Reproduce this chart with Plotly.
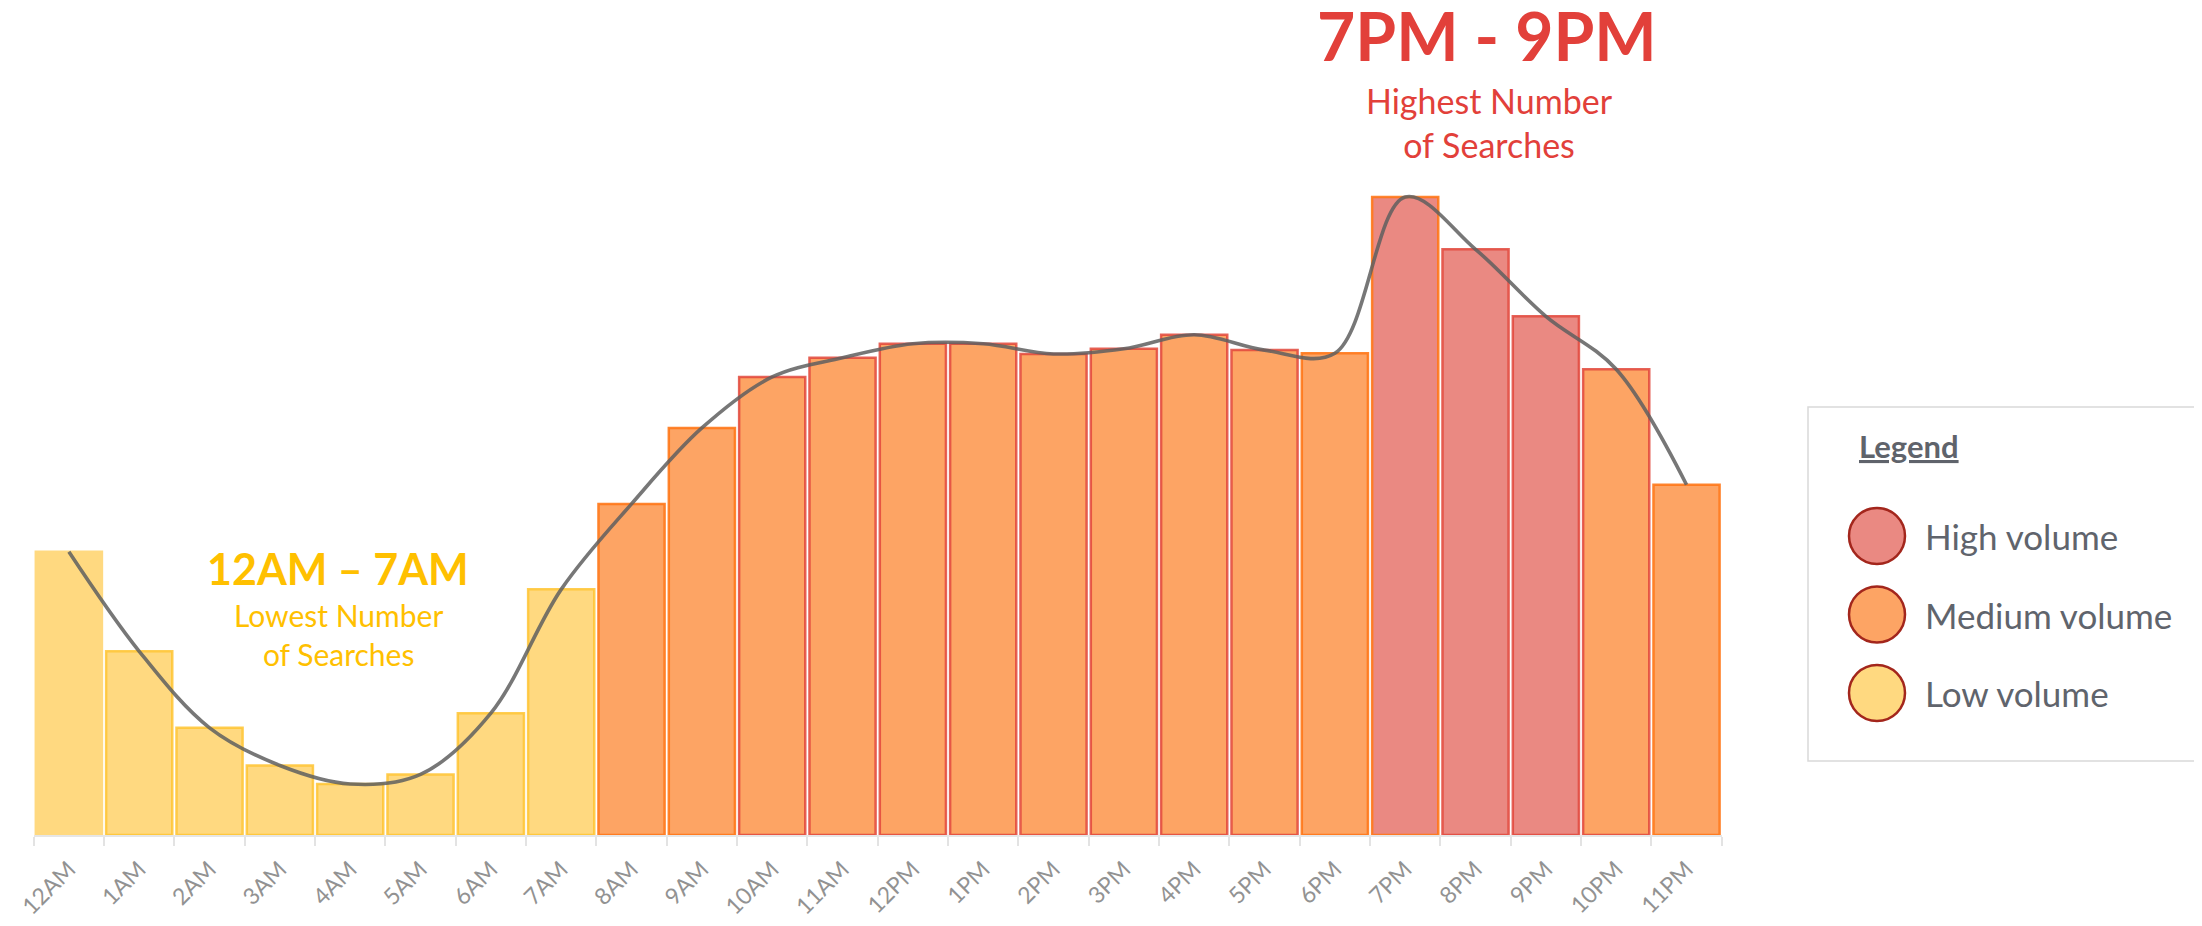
import plotly.graph_objects as go

# ---- data ----
hours = ["12AM", "1AM", "2AM", "3AM", "4AM", "5AM", "6AM", "7AM", "8AM", "9AM", "10AM", "11AM",
         "12PM", "1PM", "2PM", "3PM", "4PM", "5PM", "6PM", "7PM", "8PM", "9PM", "10PM", "11PM"]
searches = [44.4, 28.8, 16.8, 10.9, 8.0, 9.5, 19.1, 38.5, 51.9, 63.8, 71.8, 74.8,
            77.0, 77.0, 75.4, 76.2, 78.4, 76.0, 75.5, 100.0, 91.8, 81.3, 73.0, 54.9]
volume_level = ["Low"] * 8 + ["Medium"] * 11 + ["High"] * 3 + ["Medium"] * 2
legend_labels = ["High volume", "Medium volume", "Low volume"]

# ---- styles ----
OFF = 8                      # page body margin
W, H = 2202 - OFF, 926 - OFF
FILL = {"High": "#EA8982", "Medium": "#FDA464", "Low": "#FFD980"}
YEL, ORA, RED = "rgba(255,196,50,0.85)", "rgba(255,120,25,0.9)", "rgba(226,72,60,0.85)"
border_style = ["rgba(255,217,128,1)"] + [YEL] * 7 + [ORA, ORA] + [RED] * 8 + [ORA, ORA, RED, RED, RED, ORA]
FONT = "Lato, 'Open Sans', sans-serif"

def px(x):
    return (x - OFF) / W

def py(y):
    return 1 - (y - OFF) / H

plot_left, plot_right, base_y = 33.7, 1721.7, 835.0
px_per_unit = 6.38
y_max = (base_y - OFF) / px_per_unit

fig = go.Figure()
fig.add_trace(go.Bar(
    x=hours, y=searches,
    marker=dict(color=[FILL[v] for v in volume_level],
                line=dict(color=border_style, width=2.5)),
    showlegend=False, hoverinfo="x+y",
))
fig.add_trace(go.Scatter(
    x=hours, y=searches, mode="lines",
    line=dict(shape="spline", smoothing=1.0, color="rgba(95,95,95,0.85)", width=3.6),
    showlegend=False, hoverinfo="skip",
))

annotations = [
    dict(text="<b>7PM - 9PM</b>", x=px(1487), y=py(35), font=dict(size=66, color="#E2403A")),
    dict(text="Highest Number<br>of Searches", x=px(1489), y=py(122), font=dict(size=34, color="#E2403A")),
    dict(text="<b>12AM \u2013 7AM</b>", x=px(338), y=py(568), font=dict(size=43, color="#FFC000")),
    dict(text="Lowest Number<br>of Searches", x=px(338), y=py(634), font=dict(size=30, color="#FFC000")),
    dict(text="<b><u>Legend</u></b>", x=px(1857), y=py(446), xanchor="left",
         font=dict(size=31, color="#5F636B")),
]
for a in annotations:
    a.setdefault("xanchor", "center")
    a.update(xref="paper", yref="paper", yanchor="middle", showarrow=False,
             font=dict(family=FONT, **a["font"]))

shapes = [dict(type="rect", xref="paper", yref="paper", x0=px(1808), x1=px(2199), y0=py(407), y1=py(761),
               line=dict(color="#D9D9D9", width=1.5), fillcolor="white", layer="below")]
legend_fill = [FILL["High"], FILL["Medium"], FILL["Low"]]
for i, (lab, col) in enumerate(zip(legend_labels, legend_fill)):
    cy = 536 + i * 78.5
    r = 28
    shapes.append(dict(type="circle", xref="paper", yref="paper",
                       x0=px(1877 - r), x1=px(1877 + r), y0=py(cy + r), y1=py(cy - r),
                       fillcolor=col, line=dict(color="#A3261C", width=2.5)))
    annotations.append(dict(text=lab, x=px(1923), y=py(cy), xref="paper", yref="paper",
                            xanchor="left", yanchor="middle", showarrow=False,
                            font=dict(family=FONT, size=35, color="#60646C")))

fig.update_layout(
    width=W, height=H,
    margin=dict(l=0, r=0, t=0, b=0),
    paper_bgcolor="white", plot_bgcolor="white",
    bargap=0.06,
    font=dict(family=FONT),
    xaxis=dict(domain=[px(plot_left), px(plot_right)], range=[-0.5, 23.5],
               tickangle=-45, tickfont=dict(family=FONT, size=23, color="#929292"),
               ticks="outside", tickson="boundaries", ticklen=9, tickcolor="#E3E3E3", tickwidth=1.5,
               ticklabelstandoff=10,
               showline=True, linecolor="#E6E6E6", linewidth=1.5,
               showgrid=False, zeroline=False, automargin=False, fixedrange=True),
    yaxis=dict(domain=[py(base_y), 1.0], range=[0, y_max], visible=False,
               showgrid=False, zeroline=False, automargin=False, fixedrange=True),
    annotations=annotations,
    shapes=shapes,
)

fig.write_html("out.html")
